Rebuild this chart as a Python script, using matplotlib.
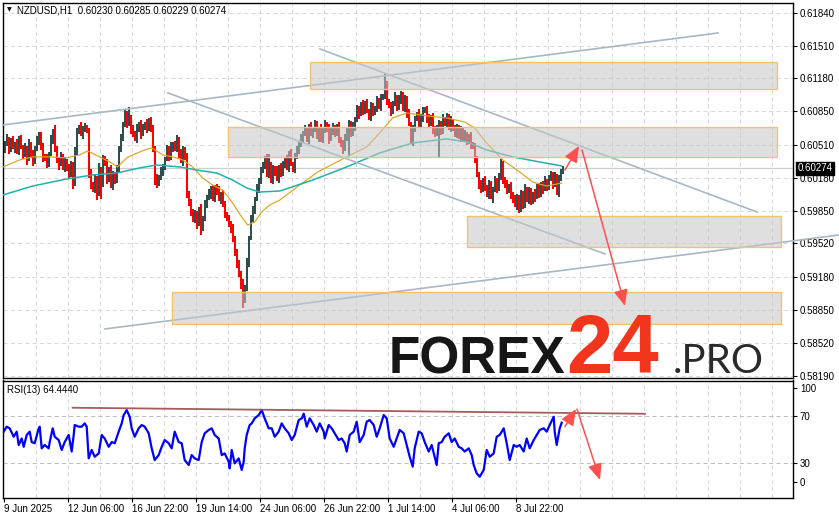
import numpy as np
import matplotlib
matplotlib.use("Agg")
import matplotlib.pyplot as plt
from matplotlib import font_manager as fm
from matplotlib.patches import Rectangle
from matplotlib.transforms import blended_transform_factory

plt.rcParams['font.family'] = ['Liberation Sans', 'DejaVu Sans']

# NZDUSD, candles aggregated to 2 hours, closes in pips (1e-4)
first_open = 6047
closes = [
    6052, 6057, 6047, 6054, 6049, 6052, 6045, 6057, 6049, 6042,
    6047, 6037, 6052, 6042, 6035, 6047, 6055, 6062, 6049, 6039,
    6037, 6032, 6042, 6057, 6065, 6047, 6037, 6032, 6039, 6029,
    6035, 6027, 6022, 6032, 6012, 6045, 6065, 6069, 6062, 6067,
    6069, 6065, 6022, 6012, 6007, 6017, 6002, 6027, 6012, 6037,
    6032, 6017, 6027, 6012, 6022, 6015, 6027, 6047, 6057, 6072,
    6082, 6072, 6079, 6067, 6062, 6057, 6067, 6072, 6062, 6069,
    6072, 6067, 6075, 6069, 6047, 6017, 6012, 6019, 6025, 6029,
    6037, 6047, 6039, 6049, 6052, 6047, 6057, 6042, 6035, 6047,
    6039, 6002, 5992, 5985, 5977, 5982, 5972, 5987, 5967, 5977,
    5992, 5999, 6002, 6007, 5997, 6009, 6005, 5997, 6002, 5992,
    5982, 5977, 5972, 5967, 5957, 5942, 5932, 5922, 5912, 5897,
    5907, 5932, 5957, 5977, 5987, 5997, 6007, 6015, 6025, 6032,
    6037, 6022, 6032, 6015, 6027, 6025, 6017, 6029, 6022, 6032,
    6037, 6029, 6042, 6032, 6027, 6039, 6047, 6052, 6057, 6062,
    6067, 6057, 6069, 6062, 6067, 6072, 6059, 6067, 6057, 6065,
    6072, 6067, 6057, 6065, 6069, 6062, 6069, 6057, 6052, 6047,
    6059, 6067, 6072, 6062, 6069, 6077, 6087, 6082, 6092, 6085,
    6092, 6085, 6080, 6090, 6083, 6088, 6095, 6090, 6098, 6100,
    6112, 6095, 6090, 6085, 6092, 6099, 6089, 6097, 6102, 6087,
    6097, 6082, 6072, 6057, 6067, 6077, 6082, 6072, 6079, 6085,
    6087, 6077, 6072, 6079, 6067, 6062, 6069, 6072, 6065, 6077,
    6072, 6079, 6069, 6075, 6067, 6062, 6069, 6059, 6065, 6057,
    6062, 6055, 6059, 6052, 6049, 6037, 6022, 6012, 6007, 6015,
    6009, 6002, 6012, 5999, 6007, 6015, 6007, 6019, 6032, 6017,
    6012, 6005, 6009, 6002, 5997, 5992, 5999, 5987, 6002, 5992,
    6007, 5997, 6005, 5995, 6002, 5999, 6009, 6002, 6012, 6007,
    6015, 6009, 6017, 6022, 6012, 6019, 6005, 6017, 6025, 6027,
]
# wick lengths above / below the body, pips
wick_up = [
    3, 5, 2, 4, 6, 2, 5, 3, 4, 2, 6, 3, 5, 2, 4, 3, 5, 2, 2, 4,
    3, 5, 2, 4, 2, 6, 3, 2, 5, 3, 4, 2, 5, 3, 2, 4, 3, 2, 5, 3,
    4, 2, 3, 5, 2, 4, 3, 6, 2, 4, 3, 5, 2, 4, 3, 2, 4, 3, 5, 2,
    4, 3, 10, 2, 4, 3, 5, 2, 4, 3, 2, 5, 3, 4, 2, 3, 5, 2, 4, 3,
    2, 4, 3, 5, 2, 3, 4, 2, 5, 3, 2, 4, 3, 5, 2, 4, 3, 2, 5, 3,
    4, 2, 5, 3, 4, 2, 3, 5, 2, 4, 3, 2, 4, 3, 5, 2, 4, 3, 2, 4,
    3, 5, 2, 4, 3, 2, 5, 3, 4, 2, 3, 5, 10, 2, 4, 3, 5, 2, 4, 3,
    2, 4, 3, 5, 2, 4, 3, 2, 5, 3, 4, 2, 3, 5, 2, 4, 3, 2, 5, 3,
    4, 2, 5, 3, 4, 2, 3, 5, 2, 4, 3, 2, 4, 3, 5, 2, 4, 3, 2, 4,
    3, 5, 2, 4, 3, 2, 5, 3, 4, 2, 10, 3, 2, 4, 3, 5, 2, 4, 3, 2,
    4, 3, 5, 2, 4, 3, 2, 5, 3, 4, 2, 3, 5, 2, 4, 3, 2, 4, 3, 5,
    2, 4, 3, 5, 2, 4, 3, 2, 5, 3, 4, 2, 3, 5, 2, 4, 3, 2, 4, 3,
    5, 2, 4, 3, 2, 5, 3, 4, 5, 3, 2, 4, 3, 5, 2, 4, 3, 2, 4, 3,
    5, 2, 4, 3, 2, 5, 3, 4, 2, 3, 5, 2, 4, 3, 2, 5, 3, 4, 2, 3,
]
wick_dn = [
    4, 2, 5, 3, 2, 6, 3, 4, 2, 5, 3, 6, 2, 4, 5, 3, 2, 4, 3, 5,
    2, 4, 3, 2, 5, 3, 4, 6, 2, 3, 5, 2, 4, 3, 5, 2, 4, 3, 2, 5,
    3, 2, 4, 5, 3, 4, 6, 2, 15, 3, 2, 5, 3, 4, 6, 3, 2, 4, 3, 2,
    3, 4, 2, 5, 3, 2, 4, 3, 5, 2, 3, 4, 2, 5, 3, 6, 4, 2, 3, 5,
    3, 2, 4, 3, 5, 2, 3, 4, 2, 5, 3, 4, 2, 5, 3, 4, 6, 2, 7, 3,
    2, 4, 3, 5, 2, 3, 4, 2, 5, 3, 4, 2, 3, 5, 4, 3, 5, 4, 6, 10,
    5, 3, 4, 2, 3, 5, 2, 4, 3, 2, 5, 3, 4, 2, 3, 5, 2, 4, 3, 2,
    4, 3, 5, 2, 3, 4, 2, 5, 3, 4, 2, 3, 5, 2, 4, 3, 2, 5, 3, 4,
    2, 3, 5, 2, 4, 3, 2, 4, 3, 5, 2, 4, 27, 3, 2, 4, 3, 5, 2, 4,
    3, 2, 4, 5, 3, 2, 4, 3, 5, 2, 3, 4, 2, 5, 3, 2, 4, 3, 5, 2,
    3, 4, 2, 5, 7, 3, 2, 4, 3, 5, 2, 4, 3, 2, 5, 3, 2, 30, 4, 3,
    2, 4, 3, 5, 2, 3, 4, 2, 5, 3, 2, 4, 3, 5, 2, 4, 3, 5, 4, 3,
    4, 3, 5, 2, 6, 3, 4, 2, 3, 5, 4, 3, 2, 5, 4, 3, 6, 4, 3, 5,
    4, 3, 5, 4, 3, 5, 2, 4, 3, 5, 2, 4, 3, 2, 5, 3, 4, 6, 2, 3,
]

# moving averages (x in hours from first bar)
ma_fast_x = [-0.7, 16, 29, 46, 63, 76, 84, 96, 106, 114, 123, 129, 141, 148, 159,
             169, 179, 189, 199, 209, 219, 229, 238, 244, 251, 258, 266, 276, 296,
             314, 343, 363, 376, 389, 403, 423, 443, 461, 471, 483, 499, 516, 529,
             543, 558]
ma_fast = [0.60289, 0.60360, 0.60390, 0.60390, 0.60380, 0.60410, 0.60450, 0.60390,
           0.60340, 0.60289, 0.60380, 0.60410, 0.60460, 0.60480, 0.60410, 0.60390,
           0.60360, 0.60289, 0.60178, 0.60107, 0.60057, 0.59926, 0.59786, 0.59705,
           0.59735, 0.59836, 0.59906, 0.59956, 0.60107, 0.60238, 0.60390, 0.60490,
           0.60631, 0.60782, 0.60832, 0.60802, 0.60782, 0.60741, 0.60681, 0.60530,
           0.60360, 0.60238, 0.60137, 0.60097, 0.60127]
ma_slow_x = [-0.7, 29, 63, 89, 113, 136, 153, 176, 193, 213, 229, 243, 256, 276,
             309, 343, 376, 409, 443, 463, 483, 509, 536, 558]
ma_slow = [0.60007, 0.60097, 0.60168, 0.60208, 0.60228, 0.60279, 0.60309, 0.60289,
           0.60258, 0.60228, 0.60157, 0.60077, 0.60037, 0.60047, 0.60157, 0.60289,
           0.60430, 0.60530, 0.60571, 0.60540, 0.60460, 0.60390, 0.60339, 0.60299]

# RSI(13)
rsi_x = [0, 3, 6, 10, 13, 15, 18, 20, 23, 26, 28, 31, 35, 36, 38, 41, 45, 46, 49, 51,
         55, 58, 61, 65, 68, 70, 71, 75, 78, 81, 83, 85, 88, 91, 95, 98, 101, 105, 108,
         111, 115, 118, 120, 123, 126, 128, 131, 135, 138, 141, 145, 148, 151, 155, 158,
         161, 165, 168, 171, 175, 178, 181, 185, 188, 191, 195, 198, 201, 205, 208, 211,
         215, 218, 221, 225, 226, 228, 231, 235, 238, 240, 241, 243, 246, 248, 251, 255,
         258, 261, 265, 268, 271, 275, 278, 281, 285, 288, 291, 295, 298, 300, 303, 306,
         310, 313, 316, 320, 321, 325, 328, 331, 335, 338, 341, 343, 346, 350, 353, 356,
         360, 363, 366, 370, 373, 376, 380, 383, 386, 390, 393, 396, 400, 403, 406, 409,
         411, 415, 418, 421, 425, 428, 433, 435, 438, 441, 445, 448, 451, 455, 458, 461,
         465, 468, 470, 473, 476, 480, 483, 486, 490, 493, 496, 500, 503, 506, 510, 513,
         516, 520, 523, 526, 530, 533, 536, 540, 543, 546, 550, 551, 553, 556, 558]
rsi_val = [56.8, 61, 59.6, 52.5, 56.8, 45.5, 51, 44, 54, 56.8, 48, 47, 59.6, 61, 42.7,
           45.5, 42.7, 48, 59.6, 52.5, 49.7, 41.3, 48, 54, 40, 54, 62.4, 61, 61, 63.8,
           61, 34.2, 41.3, 35.6, 38.4, 54, 51, 44, 48, 47, 56.8, 63.8, 70.8, 75, 69.4,
           59.6, 52.5, 59.6, 62.4, 61, 55.4, 42.7, 32.8, 37, 44, 49.7, 47, 42.7, 56.8,
           48, 47, 32.8, 28.6, 37, 34.2, 32.8, 48, 55.4, 58.2, 59.6, 54, 51, 37, 38.4,
           31.4, 25.8, 41.3, 30, 34.2, 24.4, 31.4, 42.7, 54, 62.4, 63.8, 68, 70.8, 75,
           68, 59.6, 59.6, 52.5, 56.8, 63.8, 59.6, 55.4, 49.7, 54, 66.6, 68, 72, 61,
           68, 62.4, 56.8, 63.8, 56.8, 51, 62.4, 59.6, 55.4, 49.7, 51, 47, 40, 54, 56.8,
           65.2, 48, 54, 65.2, 66.6, 62.4, 52.5, 59.6, 70.8, 68, 51, 44, 51, 58.2, 55.4,
           45.5, 35.6, 27.2, 42.7, 56.8, 55.4, 48, 40, 45.5, 28.6, 47, 48, 52.5, 55.4,
           48, 51, 44, 42.7, 40, 42.7, 37, 28.6, 21.6, 18.7, 24.4, 41.3, 35.6, 38.4,
           52.5, 54, 59.6, 47, 32.8, 45.5, 44, 45.5, 40, 51, 42.7, 49.7, 54, 58.2, 59.6,
           56.8, 62.4, 69.4, 56.8, 45.5, 59.6, 64.4]

price_ticks = [0.61840, 0.61510, 0.61180, 0.60850, 0.60510, 0.60180,
               0.59850, 0.59520, 0.59180, 0.58850, 0.58520, 0.58190]
last_price = 0.60274
time_ticks = [0, 64, 128, 192, 256, 320, 384, 448, 512]
time_labels = ['9 Jun 2025', '12 Jun 06:00', '16 Jun 22:00', '19 Jun 14:00',
               '24 Jun 06:00', '26 Jun 22:00', '1 Jul 14:00', '4 Jul 06:00', '8 Jul 22:00']

# analysis drawings: zones (x0, x1, p_low, p_high), lines, arrows
zones = [(306.3, 773.0, 0.61070, 0.61347),
         (224.6, 773.3, 0.60386, 0.60694),
         (463.0, 777.0, 0.59481, 0.59799),
         (168.6, 777.0, 0.58710, 0.59035)]
trend_lines = [((-0.7, 0.60711), (714.3, 0.61636)),
               ((101.3, 0.58660), (835.3, 0.59605)),
               ((164.3, 0.61033), (601.3, 0.59414)),
               ((316.3, 0.61475), (753.3, 0.59836))]
price_arrows = [((561.3, 0.60258), (575.3, 0.60500)),
                ((578.3, 0.60460), (621.3, 0.58891))]
rsi_line = ((69, 77.0), (641.3, 71.9))
rsi_arrows = [((561.3, 61.0), (572.3, 75.9)),
              ((573.3, 75.9), (596.3, 15.9))]

W, H = 839, 519
fig = plt.figure(figsize=(W / 100, H / 100), dpi=100)
ax = fig.add_axes([3 / W, 1 - 378 / H, 790 / W, 375 / H])
ax2 = fig.add_axes([3 / W, 1 - 497.7 / H, 790 / W, 117.2 / H])

grid_kw = dict(color='#d9d9d9', lw=0.75, dashes=(4, 3), zorder=0)
for a in (ax, ax2):
    for gx in range(32, 790, 32):
        a.axvline(gx, **grid_kw)
    for s in a.spines.values():
        s.set_color('black')
        s.set_linewidth(1.0)
    a.set_xlim(-0.7, 789.3)
for p in price_ticks:
    ax.axhline(p, **grid_kw)
ax.axhline(last_price, color='#cfcfcf', lw=0.9, zorder=1)

# candles
n = min(len(closes), len(wick_up), len(wick_dn))
c = np.array(closes[:n]) / 1e4
o = np.concatenate([[first_open / 1e4], c[:-1]])
hi = np.maximum(o, c) + np.array(wick_up[:n]) / 1e4
lo = np.minimum(o, c) - np.array(wick_dn[:n]) / 1e4
bx = 2 * np.arange(n) + 1
up = c >= o
ax.vlines(bx[up], lo[up], hi[up], color='#2f4f4f', lw=1.45, zorder=2)
ax.vlines(bx[~up], lo[~up], hi[~up], color='#ff0000', lw=1.45, zorder=2)

ax.plot(ma_fast_x, ma_fast, color='#daa520', lw=0.85, zorder=3)
ax.plot(ma_slow_x, ma_slow, color='#20b2aa', lw=1.1, zorder=3)

for (x0, y0), (x1, y1) in trend_lines:
    ax.plot([x0, x1], [y0, y1], color='#a6b8c6', lw=1.2, zorder=4, clip_on=False)

for x0, x1, p0, p1 in zones:
    ax.add_patch(Rectangle((x0, p0), x1 - x0, p1 - p0, facecolor='#c6c6c6',
                           alpha=0.55, edgecolor='none', zorder=5))
    ax.add_patch(Rectangle((x0, p0), x1 - x0, p1 - p0, fill=False,
                           edgecolor='#f2c36a', lw=1.0, zorder=6))

arrow_kw = dict(arrowstyle='-|>,head_length=0.7,head_width=0.3', color='#ff5050',
                lw=1.1, shrinkA=0, shrinkB=0, mutation_scale=14)
for start, tip in price_arrows:
    ax.annotate('', xy=tip, xytext=start, arrowprops=arrow_kw, zorder=7)

ax.set_ylim(0.581668, 0.619375)
ax.yaxis.tick_right()
ax.set_yticks(price_ticks)
ax.set_yticklabels([f'{p:.5f}' for p in price_ticks])
ax.tick_params(axis='y', length=3, width=0.8, pad=2, labelsize=7)
ax.tick_params(axis='x', bottom=False, labelbottom=False)

ax.text(0.0082, 0.9813, '\u25bc', transform=ax.transAxes, fontsize=4.5,
        family='DejaVu Sans', va='center', ha='center')
ax.text(0.0177, 0.9813, 'NZDUSD,H1  0.60230 0.60285 0.60229 0.60274',
        transform=ax.transAxes, fontsize=7, va='center', ha='left')
tr = blended_transform_factory(ax.transAxes, ax.transData)
ax.text(1.0055, last_price, f'{last_price:.5f}', transform=tr, color='white',
        fontsize=7, va='center', ha='left', zorder=10, clip_on=False,
        bbox=dict(boxstyle='square,pad=0.15', fc='black', ec='black'))

# watermark
names = {f.name for f in fm.fontManager.ttflist}
if 'Liberation Sans Narrow' in names:
    logo_family, logo_size = 'Liberation Sans Narrow', 45
else:
    logo_family, logo_size = 'Liberation Sans', 37
fig.text(389 / W, 1 - 373 / H, 'FOREX', family=logo_family, fontweight='bold',
         fontsize=logo_size, color='#161616', va='baseline', ha='left', zorder=20)
fig.text(566 / W, 1 - 373 / H, '24', family='Liberation Sans', fontweight='bold',
         fontsize=60, color='#f2351c', va='baseline', ha='left', zorder=20)
fig.text(673 / W, 1 - 373 / H, '.PRO', family=['Lato', 'DejaVu Sans'],
         fontsize=29, color='#2a2a2a', va='baseline', ha='left', zorder=20)

# RSI panel
ax2.plot(rsi_x, rsi_val, color='#0000ff', lw=1.6, zorder=3)
ax2.axhline(70, color='#c0c0c0', lw=0.75, dashes=(4, 3), zorder=0)
ax2.axhline(30, color='#c0c0c0', lw=0.75, dashes=(4, 3), zorder=0)
(x0, y0), (x1, y1) = rsi_line
ax2.plot([x0, x1], [y0, y1], color='#9c4a4a', lw=1.3, alpha=0.9, zorder=4)
for start, tip in rsi_arrows:
    ax2.annotate('', xy=tip, xytext=start, arrowprops=arrow_kw, zorder=7)
ax2.set_ylim(1, 100)
ax2.yaxis.tick_right()
ax2.set_yticks([93.9, 70, 30, 13.9])
ax2.set_yticklabels(['100', '70', '30', '0'])
ax2.tick_params(axis='y', length=3, width=0.8, pad=2, labelsize=7)
ax2.set_xticks(time_ticks)
ax2.set_xticklabels(time_labels)
ax2.tick_params(axis='x', length=3, width=0.8, pad=1.5, labelsize=7)
for lbl in ax2.get_xticklabels():
    lbl.set_horizontalalignment('left')
ax2.text(0.005, 0.92, 'RSI(13) 64.4440', transform=ax2.transAxes, fontsize=7,
         va='center', ha='left')

fig.savefig('out.png', dpi=100)
